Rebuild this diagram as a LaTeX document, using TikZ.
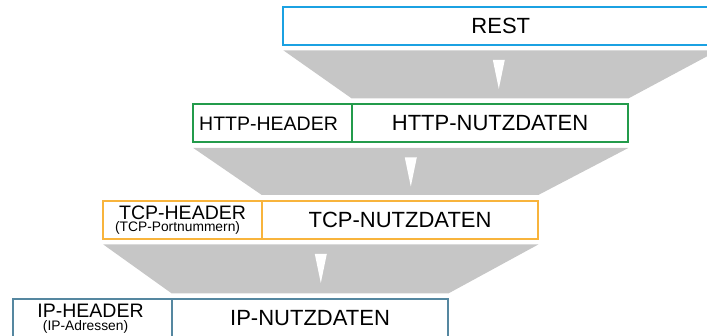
\documentclass[tikz,border=0pt]{standalone}
\usepackage{fontspec}
\setmainfont{Liberation Sans}
\usepackage{tikz}
\usetikzlibrary{positioning,calc}
\usepackage{xcolor}

\definecolor{restblue}{RGB}{27,161,226}
\definecolor{httpgreen}{RGB}{35,155,75}
\definecolor{tcporange}{RGB}{248,180,60}
\definecolor{ipsteel}{RGB}{85,135,160}
\definecolor{funnelgray}{RGB}{198,198,198}

\tikzset{
  layer/.style={draw, line width=2pt, fill=white, minimum height=38pt,
                inner sep=0pt, outer sep=0pt, font=\fontsize{22}{26}\selectfont},
  head/.style={layer, minimum width=158.5pt, align=center,
               font=\fontsize{19.5}{12.6}\selectfont},
  payload/.style={layer, minimum width=276.5pt},
  funnel/.style={fill=funnelgray},
  pointer/.style={fill=white}
}
\newcommand{\portfont}{\fontsize{13.8}{14}\selectfont}

\begin{document}
\begin{tikzpicture}[x=1pt,y=1pt]

  % Page frame
  \useasboundingbox (0,0) rectangle (707,-336);
  \clip (0,0) rectangle (707,-336);

  % Define sizes
  \def\w{435}
  \def\gt{5.5}
  \def\gb{6}

  % Layers
  \node[layer, draw=restblue, minimum width=\w] (rest) at (500.8, -25.8) {REST};

  \node[head, draw=httpgreen] (httph) at (272.55, -123.5) {HTTP-HEADER\hspace*{8pt}};
  \node[payload, draw=httpgreen, right=0pt of httph] (httpd) {HTTP-NUTZDATEN};

  \node[head, draw=tcporange] (tcph) at (182.55, -220) {TCP-HEADER\\{\portfont(TCP-Portnummern)}\hspace*{10pt}};
  \node[payload, draw=tcporange, right=0pt of tcph] (tcpd) {TCP-NUTZDATEN};

  \node[head, draw=ipsteel] (iph) at (92.55, -318.5) {IP-HEADER\hspace*{4pt}\\{\portfont(IP-Adressen)}\hspace*{14pt}};
  \node[payload, draw=ipsteel, right=0pt of iph] (ipd) {IP-NUTZDATEN};

  % Funnels
  \fill[funnel] ([yshift=-\gt]rest.south west) -- ([yshift=-\gt]rest.south east)
    -- ([yshift=\gb]httpd.north east) -- ([yshift=\gb]httpd.north west) -- cycle;
  \fill[pointer] ($(rest.south)+(-8,-15)$) -- ++(12,0) -- ++(-6,-29) -- cycle;

  \fill[funnel] ([yshift=-\gt]httph.south west) -- ([yshift=-\gt]httpd.south east)
    -- ([yshift=\gb]tcpd.north east) -- ([yshift=\gb]tcpd.north west) -- cycle;
  \fill[pointer] ($(httph.south west)!.5!(httpd.south east)+(-6,-15)$) -- ++(12,0) -- ++(-6,-29) -- cycle;

  \fill[funnel] ([yshift=-\gt]tcph.south west) -- ([yshift=-\gt]tcpd.south east)
    -- ([yshift=\gb]ipd.north east) -- ([yshift=\gb]ipd.north west) -- cycle;
  \fill[pointer] ($(tcph.south west)!.5!(tcpd.south east)+(-6,-15)$) -- ++(12,0) -- ++(-6,-29) -- cycle;

\end{tikzpicture}
\end{document}
